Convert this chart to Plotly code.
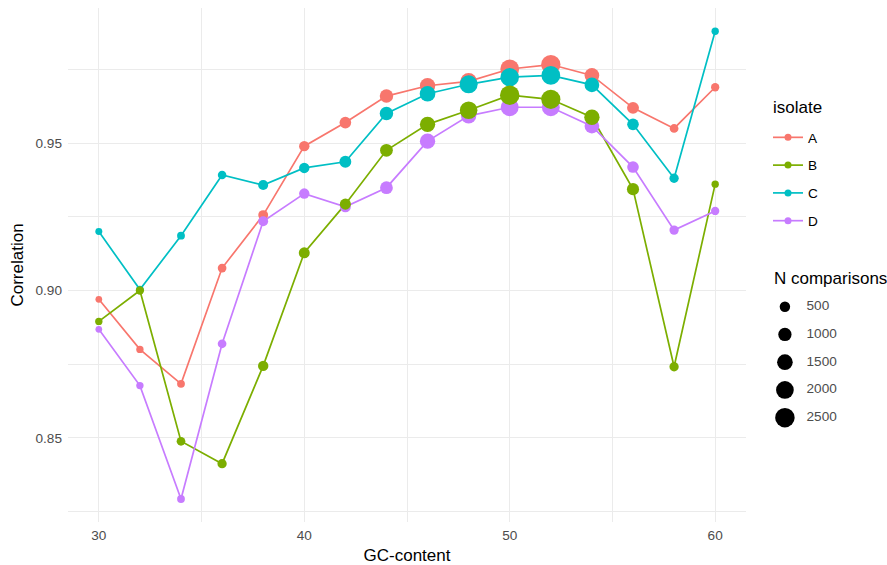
import numpy as np
import plotly.graph_objects as go

# GC-content bins (%)
gc = [30, 32, 34, 36, 38, 40, 42, 44, 46, 48, 50, 52, 54, 56, 58, 60]

# Correlation per isolate
corr_A = [0.8970, 0.8800, 0.8683, 0.9076, 0.9256, 0.9490, 0.9570, 0.9660, 0.9695, 0.9710, 0.9752, 0.9767, 0.9730, 0.9620, 0.9550, 0.9690]
corr_B = [0.8895, 0.9000, 0.8488, 0.8412, 0.8744, 0.9128, 0.9293, 0.9476, 0.9564, 0.9612, 0.9663, 0.9649, 0.9588, 0.9344, 0.8741, 0.9361]
corr_C = [0.9200, 0.9003, 0.9186, 0.9392, 0.9358, 0.9416, 0.9437, 0.9601, 0.9668, 0.9700, 0.9724, 0.9730, 0.9698, 0.9564, 0.9381, 0.9880]
corr_D = [0.8868, 0.8677, 0.8292, 0.8819, 0.9235, 0.9329, 0.9284, 0.9349, 0.9507, 0.9593, 0.9622, 0.9622, 0.9558, 0.9419, 0.9205, 0.9270]

# Number of comparisons per point
n_A = [20, 90, 140, 250, 410, 490, 690, 1030, 1430, 1730, 2300, 2450, 1280, 740, 250, 200]
n_B = [90, 200, 250, 330, 490, 580, 600, 900, 1430, 1970, 2500, 2420, 1430, 780, 330, 90]
n_C = [50, 120, 140, 230, 440, 490, 735, 1030, 1500, 2100, 2230, 2300, 1280, 690, 330, 90]
n_D = [20, 90, 140, 250, 410, 490, 590, 900, 1430, 1430, 2050, 2050, 1280, 690, 330, 200]

isolates = ["A", "B", "C", "D"]
colors = {"A": "#F8766D", "B": "#7CAE00", "C": "#00BFC4", "D": "#C77CFF"}
corr = {"A": corr_A, "B": corr_B, "C": corr_C, "D": corr_D}
counts = {"A": n_A, "B": n_B, "C": n_C, "D": n_D}

# Size legend breaks
size_breaks = [500, 1000, 1500, 2000, 2500]

x_ticks = [30, 40, 50, 60]
y_ticks = [0.85, 0.90, 0.95]
y_ticklabels = ["0.85", "0.90", "0.95"]

FONT = "Liberation Sans, Arial, sans-serif"
TICK_COLOR = "#4D4D4D"
GRID = "#EBEBEB"
TEXT_SIZE = 13.6
TITLE_SIZE = 17


def size_px(n):
    """Area-proportional size scale: diameter^2 grows linearly with n."""
    n = np.asarray(n, float)
    return np.sqrt(42 + 0.135 * n)


fig = go.Figure()

# lines underneath all points
for iso in isolates:
    fig.add_trace(go.Scatter(
        x=gc, y=corr[iso], mode="lines",
        line=dict(color=colors[iso], width=1.7),
        showlegend=False, hoverinfo="skip",
    ))

# points, sized by number of comparisons
for iso in ["A", "D", "C", "B"]:
    fig.add_trace(go.Scatter(
        x=gc, y=corr[iso], mode="markers",
        marker=dict(color=colors[iso], size=size_px(counts[iso]), line=dict(width=0), opacity=1),
        showlegend=False, name=iso,
    ))

# colour legend entries
for iso in isolates:
    fig.add_trace(go.Scatter(
        x=[None], y=[None], mode="lines+markers", name=iso,
        line=dict(color=colors[iso], width=1.7),
        marker=dict(color=colors[iso], size=7, opacity=1),
        legendgroup=iso,
    ))

# size legend drawn on its own small axes
rows = list(range(len(size_breaks)))
fig.add_trace(go.Scatter(
    x=[0.169] * len(size_breaks), y=rows, mode="markers",
    marker=dict(color="black", size=size_px(size_breaks), line=dict(width=0), opacity=1),
    xaxis="x2", yaxis="y2", showlegend=False, hoverinfo="skip",
))
fig.add_trace(go.Scatter(
    x=[0.345] * len(size_breaks), y=rows, mode="text",
    text=[str(b) for b in size_breaks], textposition="middle right",
    textfont=dict(family=FONT, size=TEXT_SIZE, color=TICK_COLOR),
    xaxis="x2", yaxis="y2", showlegend=False, hoverinfo="skip",
))

fig.update_layout(
    width=887, height=565,
    margin=dict(l=68, r=0, t=8, b=43),
    paper_bgcolor="white", plot_bgcolor="white",
    font=dict(family=FONT, color="black"),
    xaxis=dict(
        domain=[0, 678 / 819], range=[28.5, 61.5],
        tickvals=x_ticks, ticks="", showline=False, zeroline=False,
        showgrid=True, gridcolor=GRID, gridwidth=1.1,
        minor=dict(tickvals=[35, 45, 55], showgrid=True, gridcolor=GRID, gridwidth=0.6),
        tickfont=dict(size=TEXT_SIZE, color=TICK_COLOR), ticklabelstandoff=3,
        title=dict(text="GC-content", font=dict(size=TITLE_SIZE, color="black"), standoff=7),
    ),
    yaxis=dict(
        range=[0.8214, 0.9959],
        tickvals=y_ticks, ticktext=y_ticklabels, ticks="", showline=False, zeroline=False,
        showgrid=True, gridcolor=GRID, gridwidth=1.1,
        minor=dict(tickvals=[0.825, 0.875, 0.925, 0.975], showgrid=True, gridcolor=GRID, gridwidth=0.6),
        tickfont=dict(size=TEXT_SIZE, color=TICK_COLOR), ticklabelstandoff=5,
        title=dict(text="Correlation", font=dict(size=TITLE_SIZE, color="black"), standoff=7),
    ),
    xaxis2=dict(domain=[0.85, 1.0], range=[0, 1], visible=False, fixedrange=True),
    yaxis2=dict(domain=[0, 1], range=[7.759, -10.764], visible=False, fixedrange=True, anchor="x2"),
    legend=dict(
        x=(768 - 68) / 819, xanchor="left",
        y=(522 - 122) / 514, yanchor="top",
        font=dict(size=TEXT_SIZE, color="black"),
        tracegroupgap=7.1, bgcolor="rgba(0,0,0,0)", borderwidth=0,
        traceorder="grouped",
    ),
    annotations=[
        dict(text="isolate", x=(771 - 68) / 819, xref="paper", xanchor="left",
             y=(522 - 108) / 514, yref="paper", yanchor="middle",
             showarrow=False, font=dict(size=TITLE_SIZE, color="black")),
        dict(text="N comparisons", x=(772 - 68) / 819, xref="paper", xanchor="left",
             y=(522 - 278) / 514, yref="paper", yanchor="middle",
             showarrow=False, font=dict(size=TITLE_SIZE, color="black")),
    ],
)

fig.write_html("out.html")
